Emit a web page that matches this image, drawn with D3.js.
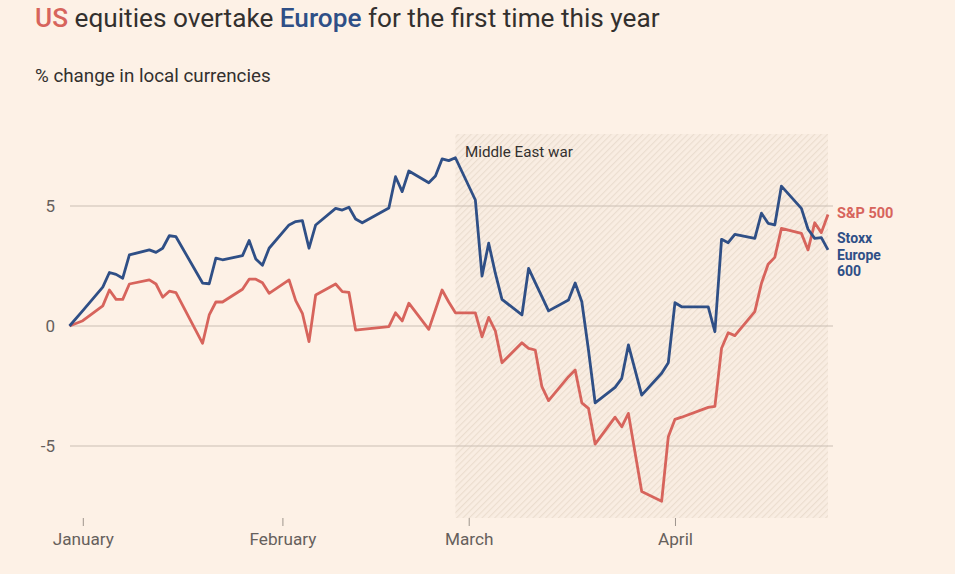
<!DOCTYPE html>
<html>
<head>
<meta charset="utf-8">
<script src="https://cdn.jsdelivr.net/npm/d3@7/dist/d3.min.js"></script>
<style>
  html, body { margin: 0; padding: 0; background: #fdf1e6; }
  svg { display: block; }
  text { font-family: Roboto, "Noto Sans", sans-serif; }
</style>
</head>
<body>
<svg id="chart" width="955" height="574"></svg>
<script>
// ---- data ----
const dates = [
  "2025-12-31",
  "2026-01-02","2026-01-05","2026-01-06","2026-01-07","2026-01-08","2026-01-09",
  "2026-01-12","2026-01-13","2026-01-14","2026-01-15","2026-01-16",
  "2026-01-20","2026-01-21","2026-01-22","2026-01-23",
  "2026-01-26","2026-01-27","2026-01-28","2026-01-29","2026-01-30",
  "2026-02-02","2026-02-03","2026-02-04","2026-02-05","2026-02-06",
  "2026-02-09","2026-02-10","2026-02-11","2026-02-12","2026-02-13",
  "2026-02-17","2026-02-18","2026-02-19","2026-02-20",
  "2026-02-23","2026-02-24","2026-02-25","2026-02-26","2026-02-27",
  "2026-03-02","2026-03-03","2026-03-04","2026-03-05","2026-03-06",
  "2026-03-09","2026-03-10","2026-03-11","2026-03-12","2026-03-13",
  "2026-03-16","2026-03-17","2026-03-18","2026-03-19","2026-03-20",
  "2026-03-23","2026-03-24","2026-03-25","2026-03-26","2026-03-27",
  "2026-03-30","2026-03-31","2026-04-01","2026-04-02",
  "2026-04-06","2026-04-07","2026-04-08","2026-04-09","2026-04-10",
  "2026-04-13","2026-04-14","2026-04-15","2026-04-16","2026-04-17",
  "2026-04-20","2026-04-21","2026-04-22","2026-04-23","2026-04-24"
];
const stoxx = [
  0,
  0.64, 1.62, 2.23, 2.15, 1.99, 2.96,
  3.17, 3.07, 3.24, 3.76, 3.72,
  1.79, 1.76, 2.83, 2.76,
  2.93, 3.56, 2.79, 2.53, 3.24,
  4.21, 4.35, 4.39, 3.24, 4.21,
  4.90, 4.83, 4.95, 4.46, 4.30,
  4.92, 6.22, 5.60, 6.46,
  5.97, 6.25, 6.96, 6.89, 7.01,
  5.25, 2.08, 3.45, 2.20, 1.11,
  0.46, 2.40, 1.81, 1.22, 0.63,
  1.08, 1.79, 1.01, -1.00, -3.20,
  -2.56, -2.18, -0.79, -1.83, -2.88,
  -1.97, -1.53, 0.97, 0.80,
  0.80, -0.24, 3.61, 3.47, 3.82,
  3.65, 4.70, 4.28, 4.21, 5.83,
  4.90, 4.03, 3.65, 3.68, 3.17
];
const sp500 = [
  0,
  0.22, 0.84, 1.50, 1.11, 1.11, 1.75,
  1.92, 1.75, 1.20, 1.45, 1.39,
  -0.72, 0.46, 1.00, 1.00,
  1.53, 1.95, 1.95, 1.80, 1.36,
  1.92, 1.06, 0.53, -0.65, 1.29,
  1.75, 1.43, 1.40, -0.17, -0.14,
  -0.03, 0.55, 0.21, 0.95,
  -0.14, 0.68, 1.50, 1.00, 0.55,
  0.55, -0.45, 0.36, -0.20, -1.53,
  -0.70, -0.93, -1.00, -2.53, -3.11,
  -2.11, -1.83, -3.20, -3.43, -4.92,
  -3.80, -4.20, -3.64, -5.27, -6.90,
  -7.30, -4.61, -3.89, -3.80,
  -3.39, -3.35, -0.93, -0.28, -0.40,
  0.60, 1.78, 2.57, 2.86, 4.07,
  3.86, 3.17, 4.30, 3.89, 4.65
];
const yTicks = [5, 0, -5];
const xTickDates = ["2026-01-02", "2026-02-01", "2026-03-01", "2026-04-01"];
const xTickLabels = ["January", "February", "March", "April"];
const warPeriod = ["2026-02-27", "2026-04-24"];
const yDomain = [-8, 8];
const stoxxLabel = ["Stoxx", "Europe", "600"];

// ---- styles ----
const RED = "#d7645c", BLUE = "#2f4f86", INK = "#33302e", AXIS = "#66605c", GRID = "#cbbfb4";

const parse = d3.utcParse("%Y-%m-%d");
const svg = d3.select("#chart");

const x = d3.scaleUtc()
  .domain([parse(dates[0]), parse(dates[dates.length - 1])])
  .range([69.5, 828]);
const y = d3.scaleLinear().domain(yDomain).range([518, 134]);

// hatch pattern
const defs = svg.append("defs");
const pat = defs.append("pattern")
  .attr("id", "hatch").attr("patternUnits", "userSpaceOnUse")
  .attr("width", 4.5).attr("height", 4.5)
  .attr("patternTransform", "rotate(45)");
pat.append("rect").attr("width", 4.5).attr("height", 4.5).attr("fill", "#f9ede2");
pat.append("line").attr("x1", 0).attr("y1", 0).attr("x2", 0).attr("y2", 4.5)
  .attr("stroke", "#ebddcf").attr("stroke-width", 2.2);

// shaded period
svg.append("rect")
  .attr("x", x(parse(warPeriod[0])))
  .attr("y", y(yDomain[1]))
  .attr("width", x(parse(warPeriod[1])) - x(parse(warPeriod[0])))
  .attr("height", y(yDomain[0]) - y(yDomain[1]))
  .attr("fill", "url(#hatch)");

// gridlines
svg.append("g").selectAll("line").data(yTicks).join("line")
  .attr("x1", 70).attr("x2", 833)
  .attr("y1", d => y(d)).attr("y2", d => y(d))
  .attr("stroke", GRID).attr("stroke-width", 1);

// y labels
svg.append("g").selectAll("text").data(yTicks).join("text")
  .attr("x", 55).attr("y", d => y(d) + 6)
  .attr("text-anchor", "end")
  .attr("font-size", 17).attr("fill", AXIS)
  .text(d => d);

// x axis
const xAxis = d3.axisBottom(x)
  .tickValues(xTickDates.map(parse))
  .tickFormat((d, i) => xTickLabels[i])
  .tickSize(8).tickPadding(7);
const gx = svg.append("g").attr("transform", "translate(0,518)").call(xAxis);
gx.select(".domain").remove();
gx.selectAll(".tick line").attr("stroke", "#9e958d");
gx.selectAll(".tick text").attr("font-size", 17.2).attr("fill", AXIS)
  .attr("font-family", "Roboto, 'Noto Sans', sans-serif");

// lines
const line = vals => d3.line()
  .x((d, i) => x(parse(dates[i])))
  .y(d => y(d))(vals);

svg.append("path").attr("d", line(sp500))
  .attr("fill", "none").attr("stroke", RED).attr("stroke-width", 2.8)
  .attr("stroke-linejoin", "round");
svg.append("path").attr("d", line(stoxx))
  .attr("fill", "none").attr("stroke", BLUE).attr("stroke-width", 2.8)
  .attr("stroke-linejoin", "round");

// annotation
svg.append("text").attr("x", 465).attr("y", 157)
  .attr("font-size", 15.2).attr("fill", INK).text("Middle East war");

// series labels
svg.append("text").attr("x", 837).attr("y", 218)
  .attr("font-size", 14.5).attr("font-weight", 700).attr("fill", RED)
  .text("S&P 500");
svg.append("g").selectAll("text").data(stoxxLabel).join("text")
  .attr("x", 837).attr("y", (d, i) => 243 + i * 16.5)
  .attr("font-size", 14).attr("font-weight", 700).attr("fill", BLUE)
  .text(d => d);

// title
const title = svg.append("text").attr("x", 35).attr("y", 27)
  .attr("font-size", 26.2).attr("fill", INK);
title.append("tspan").attr("fill", RED).attr("font-weight", 500).text("US");
title.append("tspan").text(" equities overtake ");
title.append("tspan").attr("fill", BLUE).attr("font-weight", 500).text("Europe");
title.append("tspan").text(" for the first time this year");

svg.append("text").attr("x", 35).attr("y", 82)
  .attr("font-size", 18.8).attr("fill", INK)
  .text("% change in local currencies");
</script>
</body>
</html>
